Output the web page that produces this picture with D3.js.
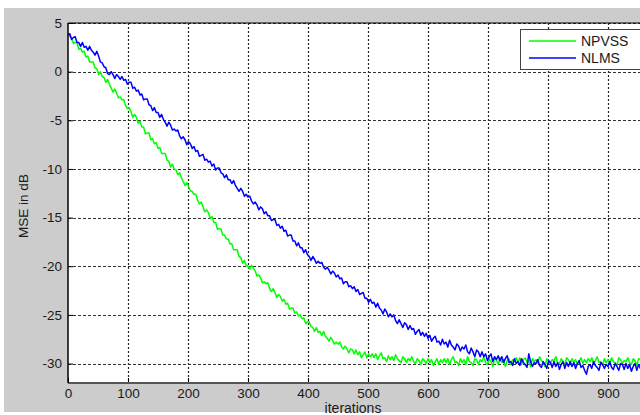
<!DOCTYPE html>
<html><head><meta charset="utf-8">
<script src="https://cdn.jsdelivr.net/npm/d3@7"></script>
<style>html,body{margin:0;padding:0;background:#fff;}svg{display:block;}</style>
</head><body>
<script>
const xTicks = [0,100,200,300,400,500,600,700,800,900];
const yTicks = [5,0,-5,-10,-15,-20,-25,-30];
const seriesNames = ["NPVSS","NLMS"];
const sampleStep = 3; // iterations between samples
const npvss = [
3.9,3.6,3.5,2.9,3.0,3.0,2.3,2.4,2.0,2.1,
1.5,1.6,1.0,1.0,1.0,0.4,0.3,-0.3,0.0,-0.5,
-0.6,-1.1,-0.8,-1.3,-1.7,-2.1,-1.8,-2.2,-2.7,-2.6,
-2.9,-2.9,-3.5,-3.8,-3.7,-4.1,-4.7,-4.4,-4.7,-5.3,
-5.1,-5.7,-5.7,-6.4,-6.3,-6.3,-7.0,-6.9,-7.4,-7.3,
-7.9,-7.8,-8.4,-8.4,-8.4,-9.1,-9.2,-9.8,-9.5,-10.0,
-10.1,-10.6,-10.4,-10.9,-11.3,-11.7,-11.4,-11.8,-12.3,-12.3,
-12.6,-12.6,-13.2,-13.6,-13.4,-13.9,-14.4,-14.2,-14.5,-15.1,
-14.9,-15.5,-15.5,-16.2,-16.1,-16.2,-16.8,-16.8,-17.2,-17.2,
-17.7,-17.7,-18.3,-18.3,-18.3,-19.0,-19.1,-19.7,-19.4,-19.9,
-20.0,-20.3,-19.9,-20.2,-20.5,-21.0,-20.9,-21.2,-21.7,-21.6,
-21.8,-21.7,-22.3,-22.6,-22.3,-22.7,-23.2,-22.9,-23.1,-23.6,
-23.4,-23.9,-23.8,-24.4,-24.3,-24.3,-24.8,-24.7,-25.1,-25.0,
-25.4,-25.3,-25.9,-25.7,-25.7,-26.2,-26.3,-26.7,-26.3,-26.8,
-26.7,-27.1,-26.7,-27.2,-27.4,-27.7,-27.3,-27.6,-28.0,-27.8,
-28.0,-27.8,-28.3,-28.5,-28.2,-28.5,-28.9,-28.5,-28.6,-29.0,
-28.6,-29.1,-28.8,-29.4,-29.1,-28.8,-29.4,-29.0,-29.3,-29.0,
-29.4,-29.0,-29.6,-29.2,-28.9,-29.5,-29.4,-29.8,-29.2,-29.6,
-29.3,-29.7,-29.1,-29.5,-29.7,-29.9,-29.3,-29.5,-29.9,-29.5,
-29.7,-29.3,-29.8,-30.0,-29.5,-29.7,-30.1,-29.5,-29.7,-30.0,
-29.5,-29.9,-29.6,-30.2,-29.8,-29.5,-30.1,-29.6,-29.9,-29.5,
-29.9,-29.5,-30.1,-29.6,-29.3,-29.9,-29.8,-30.2,-29.5,-29.9,
-29.6,-30.1,-29.3,-29.8,-29.9,-30.2,-29.5,-29.6,-30.1,-29.6,
-29.8,-29.3,-29.9,-30.1,-29.5,-29.8,-30.3,-29.5,-29.6,-30.1,
-29.4,-29.9,-29.6,-30.3,-29.7,-29.5,-30.1,-29.6,-29.8,-29.4,
-29.9,-29.4,-30.1,-29.6,-29.4,-29.9,-29.7,-30.3,-29.5,-29.8,
-29.6,-30.0,-29.3,-29.7,-29.9,-30.3,-29.5,-29.7,-30.0,-29.6,
-29.7,-29.3,-29.9,-30.0,-29.5,-29.8,-30.2,-29.4,-29.6,-30.0,
-29.5,-29.9,-29.6,-30.1,-29.8,-29.4,-30.0,-29.6,-29.9,-29.5,
-29.8,-29.4,-30.0,-29.7,-29.3,-29.9,-29.8,-30.2,-29.5,-29.9,
-29.6,-30.0,-29.4,-29.8,-29.9,-30.2,-29.4,-29.6,-30.0,-29.7,
-29.8,-29.4,-29.9,-30.1,-29.5,-29.7,-30.2,-29.5,-29.6,-30.0,
-29.8];
const nlms = [
3.8,3.9,3.3,3.5,3.6,3.0,3.0,2.6,3.0,2.5,
2.6,2.2,2.6,2.2,2.0,1.7,2.1,1.6,1.0,0.9,
0.5,0.4,-0.2,-0.3,0.0,-0.3,-0.7,-0.3,-0.5,-0.8,
-0.5,-0.9,-0.8,-1.3,-1.1,-1.1,-1.7,-1.6,-2.0,-1.9,
-2.4,-2.3,-2.9,-2.8,-2.8,-3.4,-3.5,-4.0,-3.7,-4.2,
-4.2,-4.7,-4.4,-4.9,-5.2,-5.6,-5.2,-5.5,-6.0,-5.9,
-6.1,-6.0,-6.6,-6.9,-6.7,-7.0,-7.5,-7.2,-7.4,-7.9,
-7.7,-8.2,-8.1,-8.7,-8.6,-8.5,-9.1,-9.0,-9.3,-9.2,
-9.7,-9.5,-10.1,-9.9,-9.9,-10.4,-10.5,-10.9,-10.6,-11.1,
-11.1,-11.5,-11.2,-11.7,-12.0,-12.3,-12.0,-12.3,-12.8,-12.6,
-12.9,-12.8,-13.3,-13.6,-13.4,-13.7,-14.2,-13.9,-14.1,-14.6,
-14.4,-14.8,-14.8,-15.3,-15.2,-15.2,-15.8,-15.7,-16.1,-15.9,
-16.4,-16.3,-16.9,-16.8,-16.8,-17.4,-17.4,-17.9,-17.6,-18.1,
-18.1,-18.6,-18.3,-18.8,-19.0,-19.4,-19.0,-19.3,-19.7,-19.5,
-19.7,-19.6,-20.1,-20.3,-20.1,-20.4,-20.8,-20.5,-20.7,-21.1,
-20.9,-21.3,-21.2,-21.8,-21.6,-21.6,-22.1,-22.0,-22.3,-22.1,
-22.6,-22.4,-22.9,-22.8,-22.7,-23.3,-23.3,-23.7,-23.4,-23.8,
-23.7,-24.2,-23.8,-24.3,-24.5,-24.9,-24.4,-24.7,-25.2,-24.9,
-25.2,-25.0,-25.6,-25.9,-25.5,-25.9,-26.3,-25.8,-26.0,-26.5,
-26.1,-26.5,-26.4,-27.0,-26.7,-26.5,-27.1,-26.8,-27.2,-26.9,
-27.4,-27.1,-27.7,-27.4,-27.2,-27.8,-27.7,-28.1,-27.5,-28.0,
-27.8,-28.3,-27.6,-28.1,-28.3,-28.6,-28.0,-28.2,-28.7,-28.3,
-28.5,-28.1,-28.8,-29.0,-28.4,-28.8,-29.3,-28.6,-28.8,-29.3,
-28.8,-29.3,-29.0,-29.7,-29.3,-29.0,-29.8,-29.3,-29.6,-29.2,
-29.7,-29.3,-29.9,-29.5,-29.2,-29.9,-29.8,-30.2,-29.5,-30.0,
-29.8,-30.2,-29.5,-29.9,-30.1,-30.4,-29.0,-29.8,-30.3,-29.9,
-30.0,-29.6,-30.2,-30.4,-29.8,-30.1,-30.5,-29.7,-29.9,-30.4,
-29.8,-30.3,-29.9,-30.6,-30.1,-29.8,-30.5,-29.9,-30.3,-29.8,
-30.3,-29.9,-30.5,-30.0,-29.7,-30.4,-30.2,-30.7,-31.1,-30.3,
-30.1,-30.5,-29.8,-30.2,-30.4,-30.7,-29.9,-30.1,-30.5,-30.1,
-30.3,-29.8,-30.4,-30.6,-30.0,-30.3,-30.7,-30.0,-30.1,-30.6,
-30.0,-30.5,-30.1,-30.8,-30.3,-30.0,-30.7,-30.1,-30.5,-29.9,
-30.4];
const colors = ["#00ff00","#0000ff"];

const W = 640, H = 415;
const svg = d3.select("body").append("svg").attr("width", W).attr("height", H);
const font = "Arial, 'Liberation Sans', sans-serif";

svg.append("rect").attr("x",4).attr("y",8).attr("width",W-4).attr("height",404).attr("fill","#cccccc");

const x = d3.scaleLinear().domain([0,1000]).range([68,668]);
const y = d3.scaleLinear().domain([-32,5]).range([383,23]);

svg.append("rect").attr("x",x(0)).attr("y",y(5)).attr("width",x(1000)-x(0)).attr("height",y(-32)-y(5)).attr("fill","#fff");

// grid
const g = svg.append("g");
g.selectAll("line.vg").data(xTicks.filter(d=>d>0)).join("line")
  .attr("x1",d=>x(d)+0.5).attr("x2",d=>x(d)+0.5).attr("y1",y(5)).attr("y2",y(-32))
  .attr("stroke","#222").attr("stroke-dasharray","2,2").attr("stroke-width",1.2);
g.selectAll("line.hg").data(yTicks).join("line")
  .attr("x1",x(0)).attr("x2",W).attr("y1",d=>Math.round(y(d))+0.5).attr("y2",d=>Math.round(y(d))+0.5)
  .attr("stroke","#333").attr("stroke-dasharray","3,2").attr("stroke-width",1.2);

// curves
const line = d3.line().x((d,i)=>x(i*sampleStep)).y(d=>y(d));
[npvss, nlms].forEach((s,k)=>{
  svg.append("path").datum(s).attr("d",line).attr("fill","none")
    .attr("stroke",colors[k]).attr("stroke-width",1.5).attr("stroke-linejoin","round");
});

// axes
const fmt = d => String(d);
const ax = svg.append("g").attr("transform",`translate(0,${y(-32)})`)
  .call(d3.axisBottom(x).tickValues(xTicks).tickFormat(fmt).tickSize(-5).tickPadding(5));
const ay = svg.append("g").attr("transform",`translate(${x(0)},0)`)
  .call(d3.axisLeft(y).tickValues(yTicks).tickFormat(fmt).tickSize(-5).tickPadding(6));
[ax,ay].forEach(a=>{
  a.selectAll("text").attr("font-family",font).attr("font-size",13.5).attr("fill","#1a1a1a");
  a.selectAll(".tick line").attr("stroke","#000");
  a.select(".domain").remove();
});
svg.append("line").attr("x1",x(0)).attr("x2",W).attr("y1",y(-32)).attr("y2",y(-32)).attr("stroke","#555").attr("stroke-width",2);
svg.append("line").attr("x1",x(0)).attr("x2",x(0)).attr("y1",y(5)).attr("y2",y(-32)).attr("stroke","#000").attr("stroke-width",1.5);
svg.append("line").attr("x1",x(0)).attr("x2",W).attr("y1",y(5)).attr("y2",y(5)).attr("stroke","#000").attr("stroke-width",1.2);

// labels
svg.append("text").attr("x",353).attr("y",413).attr("text-anchor","middle")
  .attr("font-family",font).attr("font-size",14).attr("fill","#1a1a1a").text("iterations");
svg.append("text").attr("transform","translate(28,206) rotate(-90)").attr("text-anchor","middle")
  .attr("font-family",font).attr("font-size",13.5).attr("fill","#1a1a1a").text("MSE in dB");

// legend
const lg = svg.append("g");
lg.append("rect").attr("x",520.5).attr("y",29.5).attr("width",130).attr("height",40)
  .attr("fill","#fff").attr("stroke","#444");
seriesNames.forEach((n,k)=>{
  const yy = 41 + k*17;
  lg.append("line").attr("x1",529).attr("x2",576).attr("y1",yy).attr("y2",yy)
    .attr("stroke",colors[k]).attr("stroke-width",1.3);
  lg.append("text").attr("x",581).attr("y",yy+5).attr("font-family",font).attr("font-size",14)
    .attr("fill","#1a1a1a").text(n);
});
</script>
</body></html>
